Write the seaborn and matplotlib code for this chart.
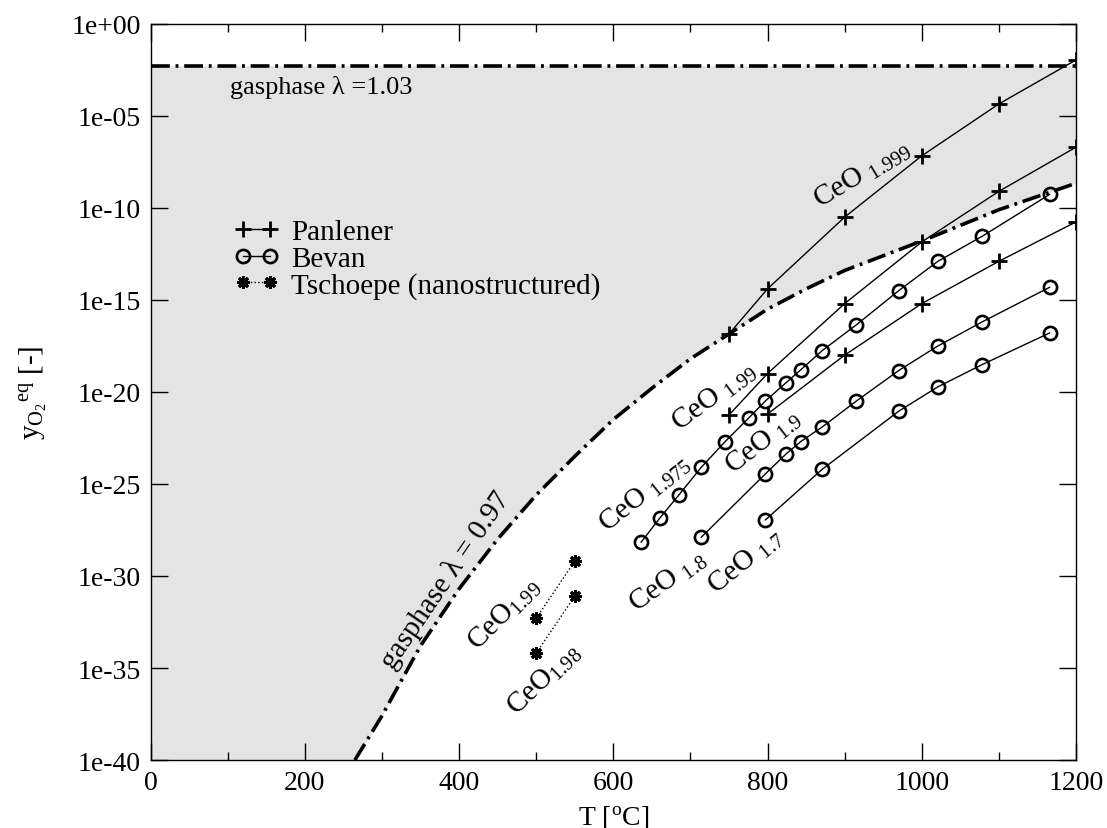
import numpy as np
import matplotlib
matplotlib.use("Agg")
import matplotlib.pyplot as plt
from matplotlib.ticker import MultipleLocator, NullLocator
import seaborn as sns

# ---- data: temperatures in deg C, oxygen fractions as log10 exponents ----
panlener_1999_T = [750, 800, 900, 1000, 1100, 1200]
panlener_1999 = [-16.85, -14.4, -10.5, -7.17, -4.35, -1.96]
panlener_199_T = [750, 800, 900, 1000, 1100, 1200]
panlener_199 = [-21.25, -19.0, -15.2, -11.85, -9.1, -6.7]
panlener_19_T = [800, 900, 1000, 1100, 1200]
panlener_19 = [-21.2, -18.0, -15.2, -12.9, -10.76]

bevan_1975_T = [636, 660, 685, 714, 745, 776, 797, 824, 843, 871, 915, 970, 1021, 1078, 1166]
bevan_1975 = [-28.17, -26.87, -25.6, -24.1, -22.7, -21.4, -20.5, -19.5, -18.8, -17.75,
              -16.36, -14.5, -12.9, -11.55, -9.26]
bevan_18_T = [714, 797, 824, 843, 871, 915, 970, 1021, 1078, 1166]
bevan_18 = [-27.9, -24.46, -23.37, -22.7, -21.9, -20.5, -18.84, -17.5, -16.2, -14.31]
bevan_17_T = [797, 871, 970, 1021, 1078, 1166]
bevan_17 = [-26.96, -24.2, -21.05, -19.72, -18.52, -16.79]

tschoepe_T = [500, 550]
tschoepe_199 = [-32.3, -29.2]
tschoepe_198 = [-34.2, -31.1]

gas_103_exp = -2.27
gas_097_T = [265, 300, 350, 400, 450, 500, 550, 600, 650, 700, 750, 800, 850, 900,
             950, 1000, 1050, 1100, 1150, 1200]
gas_097 = [-40.0, -37.6, -33.8, -30.7, -28.0, -25.6, -23.5, -21.5, -19.8, -18.2,
           -16.85, -15.5, -14.4, -13.4, -12.6, -11.8, -10.95, -10.1, -9.38, -8.66]

x_ticks = [0, 200, 400, 600, 800, 1000, 1200]
y_tick_exps = [0, -5, -10, -15, -20, -25, -30, -35, -40]
y_tick_labels = ["1e+00", "1e-05", "1e-10", "1e-15", "1e-20", "1e-25", "1e-30", "1e-35", "1e-40"]

# ---- style ----
sns.set_theme(style="ticks")
plt.rcParams["font.family"] = ["Liberation Serif", "DejaVu Serif"]
plt.rcParams["mathtext.fontset"] = "custom"
plt.rcParams["mathtext.rm"] = "Liberation Serif"
plt.rcParams["mathtext.it"] = "Liberation Serif:italic"
plt.rcParams["axes.linewidth"] = 1.0
for key in ["text.color", "axes.labelcolor", "xtick.color", "ytick.color", "axes.edgecolor"]:
    plt.rcParams[key] = "black"

FS = 20
fig = plt.figure(figsize=(11.07, 8.29), dpi=100)
ax = fig.add_axes([0.136, 0.082, 0.836, 0.888])

def pw(v):
    return np.power(10.0, np.asarray(v, dtype=float))

# shaded region between the two gas-phase limits
fill_T = [0] + gas_097_T
fill_low = [-40.0] + gas_097
ax.fill_between(fill_T, pw(fill_low), pw(gas_103_exp) * np.ones(len(fill_T)),
                color="#e4e4e4", lw=0, zorder=0)

dashdot = (0, (5.2, 1.6, 0.8, 1.6))
sns.lineplot(x=[0, 1200], y=pw([gas_103_exp, gas_103_exp]), ax=ax, color="black",
             lw=2.6, linestyle=dashdot, zorder=3)
sns.lineplot(x=gas_097_T, y=pw(gas_097), ax=ax, color="black", lw=2.6,
             linestyle=dashdot, zorder=3)

plus_kw = dict(color="black", lw=1.0, marker="+", markersize=11,
               markeredgewidth=2.0, markeredgecolor="black", zorder=4)
circ_kw = dict(color="black", lw=1.0, marker="o", markersize=9.5,
               markeredgewidth=1.9, markeredgecolor="black",
               markerfacecolor="none", zorder=4)
ast_kw = dict(color="black", lw=1.0, linestyle=":", marker=(8, 2, 0), markersize=9,
              markeredgewidth=2.2, markeredgecolor="black", zorder=4)

sns.lineplot(x=panlener_1999_T, y=pw(panlener_1999), ax=ax, label="Panlener", **plus_kw)
sns.lineplot(x=panlener_199_T, y=pw(panlener_199), ax=ax, **plus_kw)
sns.lineplot(x=panlener_19_T, y=pw(panlener_19), ax=ax, **plus_kw)

sns.lineplot(x=bevan_1975_T, y=pw(bevan_1975), ax=ax, label="Bevan", **circ_kw)
sns.lineplot(x=bevan_18_T, y=pw(bevan_18), ax=ax, **circ_kw)
sns.lineplot(x=bevan_17_T, y=pw(bevan_17), ax=ax, **circ_kw)

sns.lineplot(x=tschoepe_T, y=pw(tschoepe_199), ax=ax,
             label="Tschoepe (nanostructured)", **ast_kw)
sns.lineplot(x=tschoepe_T, y=pw(tschoepe_198), ax=ax, **ast_kw)

# ---- axes ----
ax.set_yscale("log")
ax.set_xlim(0, 1200)
ax.set_ylim(1e-40, 1)
ax.set_xticks(x_ticks)
ax.set_xticklabels([str(t) for t in x_ticks])
ax.xaxis.set_minor_locator(MultipleLocator(100))
ax.set_yticks(pw(y_tick_exps))
ax.set_yticklabels(y_tick_labels)
ax.yaxis.set_minor_locator(NullLocator())
ax.tick_params(which="both", direction="in", top=True, right=True,
               labelsize=FS, width=1.0, colors="black")
ax.tick_params(which="major", length=12, pad=7)
ax.tick_params(which="minor", length=6)

ax.set_xlabel(r"T [$^{\mathrm{o}}$C]", fontsize=FS, labelpad=6)
ax.set_ylabel(r"y$_{\mathrm{O}_{2}}{}^{\mathrm{eq}}$ [-]", fontsize=21, labelpad=16)

# ---- annotations ----
ax.text(103, pw(-3.42), "gasphase λ =1.03", fontsize=19, ha="left", va="center")
ax.text(382, pw(-30.16), "gasphase λ = 0.97", fontsize=21, ha="center", va="center",
        rotation=55.7, rotation_mode="anchor")

labels = [
    ("CeO $_{1.999}$", 923, -8.15, 31),
    ("CeO $_{1.99}$", 731, -20.2, 36.5),
    ("CeO $_{1.975}$", 641, -25.5, 38.5),
    ("CeO $_{1.9}$", 794, -22.7, 38),
    ("CeO $_{1.8}$", 671, -30.27, 35.5),
    ("CeO $_{1.7}$", 771, -29.18, 39),
    ("CeO$_{1.99}$", 459, -32.05, 45),
    ("CeO$_{1.98}$", 510, -35.6, 44),
]
for txt, tx, ty, rot in labels:
    ax.text(tx, pw(ty), txt, fontsize=21, ha="center", va="center",
            rotation=rot, rotation_mode="anchor")

handles, names = ax.get_legend_handles_labels()
ax.legend(handles, names, loc="upper left", bbox_to_anchor=(0.09, 0.735),
          frameon=False, fontsize=21, numpoints=2, handlelength=1.55,
          handletextpad=0.4, labelspacing=0.0, borderpad=0, borderaxespad=0)

fig.savefig("out.png", dpi=100)
